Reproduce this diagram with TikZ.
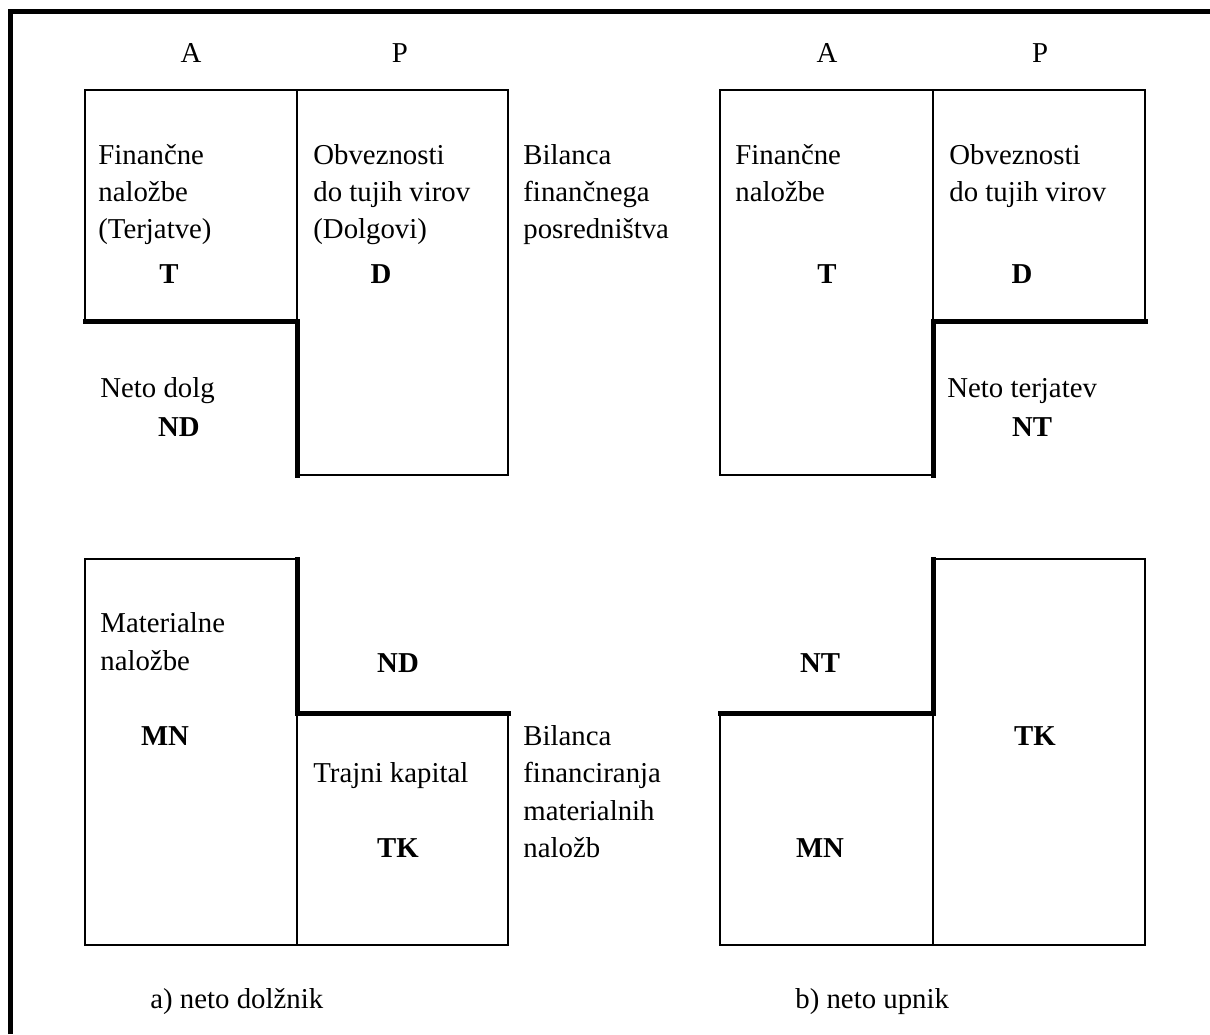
\documentclass[tikz,border=0pt]{standalone}
\usepackage{fontspec}
\setmainfont{Liberation Serif}
\begin{document}
\begin{tikzpicture}[x=0.5pt,y=-0.5pt,
  txt/.style={inner sep=0pt,anchor=base west,font=\fontsize{14.4}{18.5}\selectfont},
  lbl/.style={inner sep=0pt,anchor=base,font=\fontsize{14.4}{18.5}\selectfont\bfseries},
  hdr/.style={inner sep=0pt,anchor=base,font=\fontsize{14.4}{18.5}\selectfont},
  thinline/.style={line width=1pt,line cap=rect},
  thickline/.style={line width=2.5pt,line cap=rect},
  frameline/.style={line width=2.6pt}]
\useasboundingbox (0,0) rectangle (1210,1034);

% outer frame (left and top sides only)
\draw[frameline] (10.5,1034) -- (10.5,11.5) -- (1210,11.5);

% ---------- a) neto dolznik ----------
% balance of financial intermediation
\draw[thinline] (85,321) -- (85,90) -- (508,90) -- (508,475) -- (297,475);
\draw[thinline] (297,90) -- (297,321);
\draw[thickline] (85,321) -- (297,321) -- (297,475);
% balance of financing of material investments
\draw[thinline] (297,559) -- (85,559) -- (85,945) -- (508,945) -- (508,713);
\draw[thinline] (297,713) -- (297,945);
\draw[thickline] (297,559) -- (297,713) -- (508,713);

% ---------- b) neto upnik ----------
\draw[thinline] (933,321) -- (1145,321) -- (1145,90) -- (720,90) -- (720,475) -- (933,475);
\draw[thinline] (933,90) -- (933,321);
\draw[thickline] (933,321) -- (1145,321);
\draw[thickline] (933,321) -- (933,475);
\draw[thinline] (933,559) -- (1145,559) -- (1145,945) -- (720,945) -- (720,713);
\draw[thinline] (933,713) -- (933,945);
\draw[thickline] (720,713) -- (933,713) -- (933,559);

% column headers
\node[hdr] (hA1) at (191,62) {A};
\node[hdr] (hP1) at (400,62) {P};
\node[hdr] (hA2) at (827,62) {A};
\node[hdr] (hP2) at (1040,62) {P};

% top left
\node[txt] (fa1) at (98,164) {Finančne};
\node[txt] (fa2) at (98,201) {naložbe};
\node[txt] (fa3) at (98,238) {(Terjatve)};
\node[lbl] (tL) at (169,283) {T};
\node[txt] (ob1) at (313,164) {Obveznosti};
\node[txt] (ob2) at (313,201) {do tujih virov};
\node[txt] (ob3) at (313,238) {(Dolgovi)};
\node[lbl] (dL) at (381,283) {D};
\node[txt] (bf1) at (523,164) {Bilanca};
\node[txt] (bf2) at (523,201) {finančnega};
\node[txt] (bf3) at (523,238) {posredništva};
\node[txt] (nd1) at (100,397) {Neto dolg};
\node[lbl] (ndL) at (179,436) {ND};

% top right
\node[txt] (fb1) at (735,164) {Finančne};
\node[txt] (fb2) at (735,201) {naložbe};
\node[lbl] (tR) at (827,283) {T};
\node[txt] (oc1) at (949,164) {Obveznosti};
\node[txt] (oc2) at (949,201) {do tujih virov};
\node[lbl] (dR) at (1022,283) {D};
\node[txt] (nt1) at (947,397) {Neto terjatev};
\node[lbl] (ntR) at (1032,436) {NT};

% bottom left
\node[txt] (mn1) at (100,632) {Materialne};
\node[txt] (mn2) at (100,670) {naložbe};
\node[lbl] (mnL) at (165,745) {MN};
\node[lbl] (ndB) at (398,672) {ND};
\node[txt] (tk1) at (313,782) {Trajni kapital};
\node[lbl] (tkL) at (398,857) {TK};
\node[txt] (bm1) at (523,745) {Bilanca};
\node[txt] (bm2) at (523,782) {financiranja};
\node[txt] (bm3) at (523,820) {materialnih};
\node[txt] (bm4) at (523,857) {naložb};

% bottom right
\node[lbl] (ntB) at (820,672) {NT};
\node[lbl] (tkR) at (1035,745) {TK};
\node[lbl] (mnR) at (820,857) {MN};

% captions
\node[txt] (capA) at (150,1008) {a) neto dolžnik};
\node[txt] (capB) at (795,1008) {b) neto upnik};
\end{tikzpicture}
\end{document}
